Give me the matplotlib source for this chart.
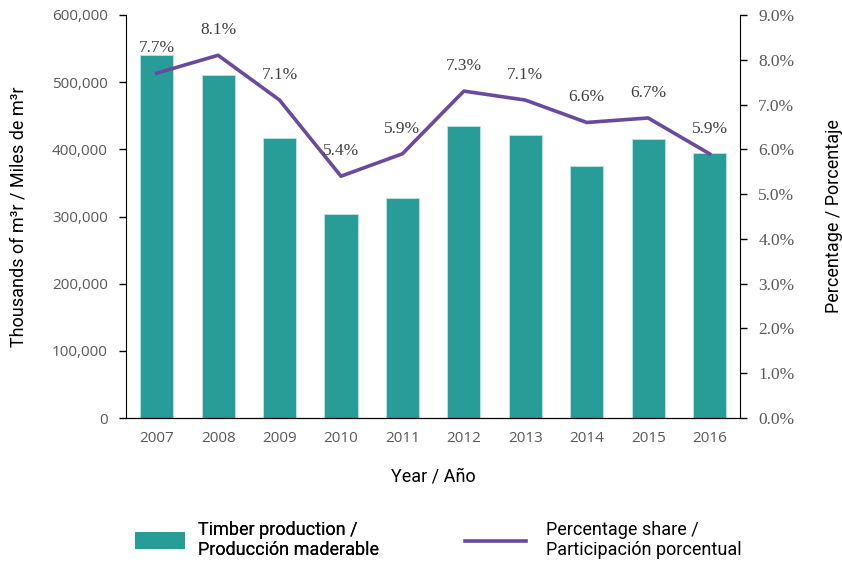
import numpy as np
import matplotlib.pyplot as plt
from matplotlib.ticker import FuncFormatter, MultipleLocator
from matplotlib.patches import Patch
from matplotlib.lines import Line2D

years = ['2007', '2008', '2009', '2010', '2011', '2012', '2013', '2014', '2015', '2016']
production = [541000, 511000, 417000, 304000, 327000, 434000, 421000, 375000, 415000, 395000]
share = [7.7, 8.1, 7.1, 5.4, 5.9, 7.3, 7.1, 6.6, 6.7, 5.9]

bar_color = '#289c96'
line_color = '#6a4a9e'
tick_color = '#595959'
narrow = ['Roboto', 'DejaVu Sans']
serif = ['Liberation Serif', 'DejaVu Serif']

fig = plt.figure(figsize=(8.42, 5.63), dpi=100)
ax = fig.add_axes([0.1496, 0.2575, 0.7296, 0.7159])
x = np.arange(len(years))

ax.bar(x, production, width=0.54, color=bar_color, edgecolor='#bfe3e0', linewidth=0.6, zorder=2)
ax.set_xlim(-0.5, len(years) - 0.5)
ax.set_ylim(0, 600000)
ax.yaxis.set_major_locator(MultipleLocator(100000))
ax.yaxis.set_major_formatter(FuncFormatter(lambda v, p: f'{int(v):,}'))
ax.set_xticks(x)
ax.set_xticklabels(years)
ax.tick_params(axis='x', length=0, pad=9, labelsize=11, labelcolor=tick_color)
ax.tick_params(axis='y', direction='out', length=5, width=1, labelsize=11, labelcolor=tick_color, pad=8)
for lab in ax.get_xticklabels() + ax.get_yticklabels():
    lab.set_family(['Open Sans', 'DejaVu Sans'])
ax.spines['top'].set_visible(False)
ax.spines['right'].set_visible(False)
ax.set_xlabel('Year / Año', fontsize=13, family=narrow, labelpad=16)
ax.set_ylabel('Thousands of m³r / Miles de m³r', fontsize=13, family=narrow, labelpad=18)

ax2 = ax.twinx()
ax2.plot(x, share, color=line_color, linewidth=2.6, zorder=3)
ax2.set_ylim(0, 9)
ax2.yaxis.set_major_locator(MultipleLocator(1))
ax2.yaxis.set_major_formatter(FuncFormatter(lambda v, p: f'{v:.1f}%'))
ax2.tick_params(axis='y', direction='out', length=5, width=1, labelsize=12.5, labelcolor=tick_color, pad=8)
for lab in ax2.get_yticklabels():
    lab.set_family(serif)
ax2.spines['top'].set_visible(False)
ax2.spines['left'].set_visible(False)
ax2.set_ylabel('Percentage / Porcentaje', fontsize=13, family=narrow, labelpad=22)

for xi, v in zip(x, share):
    ax2.annotate(f'{v:.1f}%', (xi, v), xytext=(0, 18), textcoords='offset points',
                 ha='center', va='center', fontsize=12.5, family=serif, color='#404040')

leg_font = {'family': narrow, 'size': 13}
leg1 = fig.legend([Patch(facecolor=bar_color, edgecolor='none')],
                  ['Timber production /\nProducción maderable'],
                  loc='center left', bbox_to_anchor=(0.160, 0.041), frameon=False,
                  prop=leg_font, handlelength=2.8, handleheight=1.1, handletextpad=0.7,
                  borderpad=0, borderaxespad=0)
fig.add_artist(leg1)
fig.legend([Line2D([0], [0], color=line_color, linewidth=2.6)],
           ['Percentage share /\nParticipación porcentual'],
           loc='center left', bbox_to_anchor=(0.552, 0.041), frameon=False,
           prop=leg_font, handlelength=3.4, handletextpad=1.1,
           borderpad=0, borderaxespad=0)

fig.savefig('out.png', dpi=100)
